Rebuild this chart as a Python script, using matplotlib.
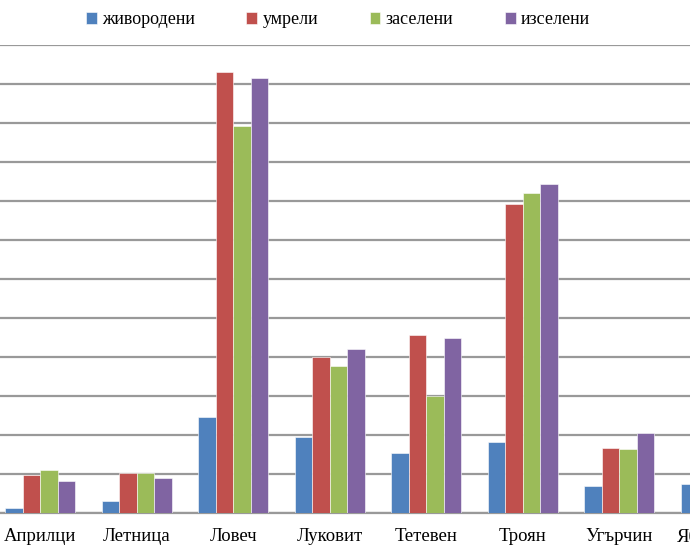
import matplotlib
matplotlib.use("Agg")
import matplotlib.pyplot as plt
import numpy as np

categories = ["Априлци", "Летница", "Ловеч", "Луковит", "Тетевен", "Троян", "Угърчин", "Ябланица"]
series_names = ["живородени", "умрели", "заселени", "изселени"]
zhivorodeni = [13, 31, 246, 195, 154, 182, 69, 74]
umreli = [97, 103, 1132, 399, 456, 792, 167, 160]
zaseleni = [110, 103, 992, 377, 300, 820, 165, 150]
izseleni = [82, 90, 1115, 420, 450, 844, 205, 190]
colors = ["#4F81BD", "#C0504D", "#9BBB59", "#8064A2"]
y_ticks = list(range(0, 1300, 100))

plt.rcParams["font.family"] = ["Liberation Serif", "DejaVu Serif"]

W, H = 690, 550
fig = plt.figure(figsize=(W / 100, H / 100), dpi=100)
# axes extends beyond the visible figure (cropped chart)
left_px, right_px = -8, 764
bottom_px, top_px = 513, 45
ax = fig.add_axes([left_px / W, (H - bottom_px) / H, (right_px - left_px) / W, (bottom_px - top_px) / H])

x = np.arange(len(categories))
bw = 1 / 5.5
data = [zhivorodeni, umreli, zaseleni, izseleni]
for i, (vals, c, name) in enumerate(zip(data, colors, series_names)):
    ax.bar(x + (i - 1.5) * bw, vals, width=bw, color=c, label=name,
           edgecolor="white", linewidth=0.4, zorder=3)

ax.set_xlim(-0.5, len(categories) - 0.5)
ax.set_ylim(0, 1200)
ax.set_yticks(y_ticks)
ax.yaxis.grid(True, color="#999999", linewidth=1.6, zorder=0)
ax.set_axisbelow(True)
for s in ["top", "right", "left"]:
    ax.spines[s].set_visible(False)
ax.spines["bottom"].set_color("#999999")
ax.spines["bottom"].set_linewidth(1.6)
ax.tick_params(axis="y", left=False, labelleft=False)
ax.set_xticks(x)
ax.set_xticklabels(categories, fontsize=13.5)
ax.tick_params(axis="x", length=0, pad=11)

fig.legend(loc="center", bbox_to_anchor=(338 / W, 1 - 20 / H), ncol=4, frameon=False,
           fontsize=13, handlelength=0.6, handleheight=0.6, handletextpad=0.3,
           columnspacing=2.85)

fig.savefig("out.png", dpi=100)
